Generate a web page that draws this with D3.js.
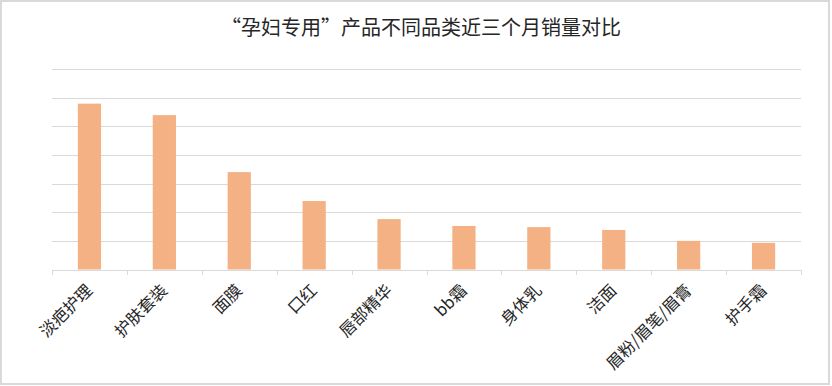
<!DOCTYPE html>
<html>
<head>
<meta charset="utf-8">
<script src="https://cdn.jsdelivr.net/npm/d3@7"></script>
<style>
  body { margin: 0; background: #fff; }
  svg { display: block; font-family: "Noto Sans CJK SC", "Microsoft YaHei", sans-serif; }
</style>
</head>
<body>
<script>
const title = "“孕妇专用”产品不同品类近三个月销量对比";
const categories = ["淡疤护理", "护肤套装", "面膜", "口红", "唇部精华", "bb霜", "身体乳", "洁面", "眉粉/眉笔/眉膏", "护手霜"];
const sales = [5.79, 5.39, 3.40, 2.39, 1.76, 1.52, 1.48, 1.38, 1.0, 0.93];
const gridTicks = [0, 1, 2, 3, 4, 5, 6, 7];

const W = 832, H = 386;
const m = {top: 69, bottom: 116.5, left: 52, right: 31};
const w = W - m.left - m.right;
const h = H - m.top - m.bottom;

const svg = d3.select("body")
    .append("svg")
    .attr("width", W)
    .attr("height", H);

// outer frame
svg.append("rect")
    .attr("x", 1)
    .attr("y", 1)
    .attr("width", W - 4)
    .attr("height", H - 3)
    .attr("fill", "#fff")
    .attr("stroke", "#d9d9d9")
    .attr("stroke-width", 2);

svg.append("text")
    .attr("x", 421)
    .attr("y", 35)
    .attr("text-anchor", "middle")
    .attr("font-size", 20)
    .attr("fill", "#262626")
    .text(title);

const g = svg.append("g")
    .attr("transform", `translate(${m.left}, ${m.top})`);

const x = d3.scaleBand()
    .domain(categories)
    .range([0, w])
    .paddingInner(0.69)
    .paddingOuter(0.345);

const y = d3.scaleLinear()
    .domain([0, 7])
    .range([h, 0]);

// gridlines
g.append("g")
    .selectAll("line")
    .data(gridTicks.slice(1))
    .enter()
    .append("line")
    .attr("x1", 0)
    .attr("x2", w)
    .attr("y1", d => Math.round(y(d)) + 0.5)
    .attr("y2", d => Math.round(y(d)) + 0.5)
    .attr("stroke", "#d9d9d9")
    .attr("stroke-width", 1);

g.selectAll("rect.bar")
    .data(sales)
    .enter()
    .append("rect")
    .attr("class", "bar")
    .attr("x", (d, i) => x(categories[i]))
    .attr("y", d => y(d))
    .attr("width", x.bandwidth())
    .attr("height", d => h - y(d))
    .attr("fill", "#F4B183");

// baseline and ticks between categories
const step = x.step();
const bounds = d3.range(categories.length + 1).map(i => i * step);
g.append("line")
    .attr("x1", 0)
    .attr("x2", w)
    .attr("y1", Math.round(h) + 0.5)
    .attr("y2", Math.round(h) + 0.5)
    .attr("stroke", "#d9d9d9");

g.append("g")
    .selectAll("line")
    .data(bounds)
    .enter()
    .append("line")
    .attr("x1", d => Math.round(d) + 0.5)
    .attr("x2", d => Math.round(d) + 0.5)
    .attr("y1", Math.round(h))
    .attr("y2", Math.round(h) + 5)
    .attr("stroke", "#d9d9d9");

g.append("g")
    .selectAll("text")
    .data(categories)
    .enter()
    .append("text")
    .attr("transform", d => `translate(${x(d) + x.bandwidth() / 2 + 4}, ${h + 22}) rotate(-45)`)
    .attr("text-anchor", "end")
    .attr("font-size", 16.5)
    .attr("fill", "#262626")
    .text(d => d);
</script>
</body>
</html>
